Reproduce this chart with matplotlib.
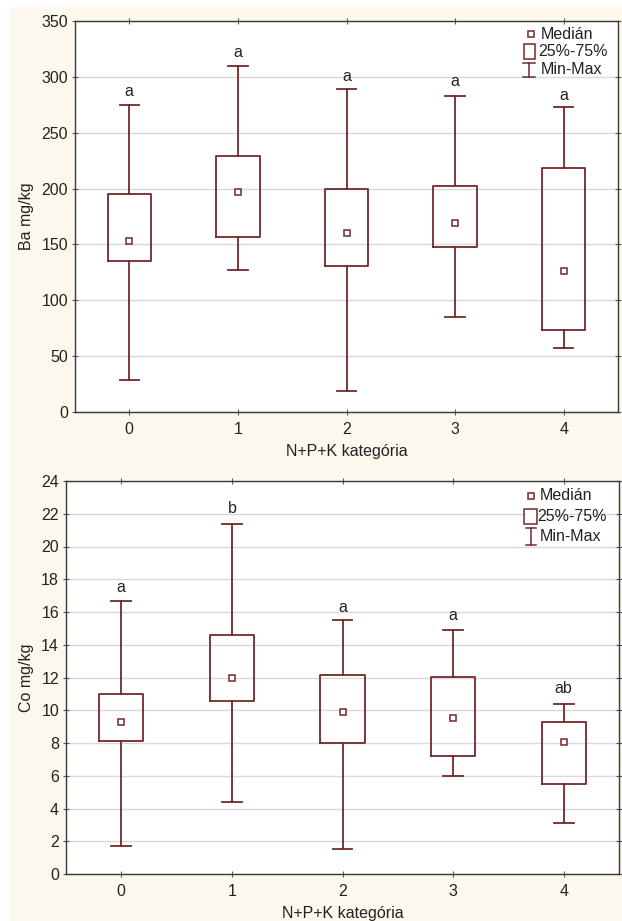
import matplotlib
matplotlib.use("Agg")
import matplotlib.pyplot as plt
from matplotlib.patches import Rectangle
from matplotlib.lines import Line2D

plt.rcParams['font.family'] = ['Liberation Sans', 'DejaVu Sans']

categories = ["0", "1", "2", "3", "4"]

# Ba mg/kg
ba_min = [29, 127, 19, 85, 57]
ba_q1 = [135, 157, 131, 148, 73]
ba_med = [153, 197, 160, 169, 126]
ba_q3 = [195, 229, 200, 202, 218]
ba_max = [275, 310, 289, 283, 273]
ba_letters = ["a", "a", "a", "a", "a"]
ba_letter_y = [287, 322, 300, 296, 283]

# Co mg/kg
co_min = [1.7, 4.37, 1.52, 6.0, 3.09]
co_q1 = [8.13, 10.57, 8.03, 7.2, 5.51]
co_med = [9.3, 11.95, 9.92, 9.55, 8.05]
co_q3 = [10.98, 14.6, 12.17, 12.05, 9.27]
co_max = [16.7, 21.4, 15.49, 14.88, 10.37]
co_letters = ["a", "b", "a", "a", "ab"]
co_letter_y = [17.5, 22.3, 16.3, 15.8, 11.3]

legend_labels = ["Medián", "25%-75%", "Min-Max"]
xlabel = "N+P+K kategória"

C = '#72292b'
BG = '#fcf8ee'
TXT = '#222222'

W, H = 622, 921
fig = plt.figure(figsize=(W / 100, H / 100), dpi=100)
fig.patch.set_facecolor('white')
fig.patches.append(Rectangle((10 / W, 0), 1 - 10 / W, 1 - 7 / H, transform=fig.transFigure,
                             facecolor=BG, edgecolor='none', zorder=-10))


def px_axes(l, t, r, b):
    return fig.add_axes([l / W, 1 - b / H, (r - l) / W, (b - t) / H])


def panel(ax, mins, q1s, meds, q3s, maxs, letters, letter_y, ylabel, yticks, ylim, leg):
    stats = []
    for lo, a, m, b, hi in zip(mins, q1s, meds, q3s, maxs):
        stats.append(dict(med=m, q1=a, q3=b, whislo=lo, whishi=hi, mean=m, fliers=[]))
    pos = list(range(len(categories)))
    ax.bxp(stats, positions=pos, widths=0.4, capwidths=0.18, showfliers=False,
           showmeans=True, patch_artist=False,
           boxprops=dict(color=C, linewidth=1.3),
           whiskerprops=dict(color=C, linewidth=1.3),
           capprops=dict(color=C, linewidth=1.3),
           medianprops=dict(linewidth=0),
           meanprops=dict(marker='s', markerfacecolor='white', markeredgecolor=C,
                          markersize=4.5, markeredgewidth=1.1))
    for x, s, y in zip(pos, letters, letter_y):
        ax.text(x, y, s, ha='center', va='center', fontsize=11.5, color=TXT)
    ax.set_xlim(-0.5, 4.5)
    ax.set_ylim(*ylim)
    ax.set_yticks(yticks)
    ax.set_xticks(pos)
    ax.set_xticklabels(categories)
    ax.yaxis.grid(True, color='#d9d9d9', linewidth=1)
    ax.set_axisbelow(True)
    ax.tick_params(axis='both', direction='inout', length=4, width=0.8, color='#555555',
                   labelsize=11.5, labelcolor=TXT, top=True, right=True)
    ax.tick_params(axis='x', pad=5)
    ax.tick_params(axis='y', pad=3)
    for sp in ax.spines.values():
        sp.set_color('#3a3a3a')
        sp.set_linewidth(1)
    ax.set_ylabel(ylabel, fontsize=11.5, color=TXT, labelpad=5)
    ax.set_xlabel(xlabel, fontsize=11.5, color=TXT, labelpad=5)
    # legend (Statistica style)
    mx, my, tx, rect, wx, wy, cap, y2, y3 = leg
    ax.plot([mx], [my], marker='s', markersize=4.5, markerfacecolor='white',
            markeredgecolor=C, markeredgewidth=1.1, transform=ax.transAxes, clip_on=False)
    ax.text(tx, my, legend_labels[0], transform=ax.transAxes, ha='left', va='center',
            fontsize=11.5, color=TXT)
    ax.add_patch(Rectangle((rect[0], rect[1]), rect[2], rect[3], transform=ax.transAxes,
                           facecolor='white', edgecolor=C, linewidth=1.1))
    ax.text(tx - 0.004, y2, legend_labels[1], transform=ax.transAxes, ha='left', va='center',
            fontsize=11.5, color=TXT)
    ax.add_line(Line2D([wx, wx], [wy[0], wy[1]], color=C, linewidth=1.1, transform=ax.transAxes))
    for yy in wy:
        ax.add_line(Line2D([wx - cap, wx + cap], [yy, yy], color=C, linewidth=1.1,
                           transform=ax.transAxes))
    ax.text(tx, y3, legend_labels[2], transform=ax.transAxes, ha='left', va='center',
            fontsize=11.5, color=TXT)


ax1 = px_axes(75, 21, 618, 412)
panel(ax1, ba_min, ba_q1, ba_med, ba_q3, ba_max, ba_letters, ba_letter_y, "Ba mg/kg",
      [0, 50, 100, 150, 200, 250, 300, 350], (0, 350),
      (0.840, 0.966, 0.857, (0.826, 0.902, 0.021, 0.038), 0.836, (0.856, 0.892), 0.0105,
       0.922, 0.875))

ax2 = px_axes(66, 481, 619, 874)
panel(ax2, co_min, co_q1, co_med, co_q3, co_max, co_letters, co_letter_y, "Co mg/kg",
      list(range(0, 25, 2)), (0, 24),
      (0.840, 0.962, 0.857, (0.829, 0.891, 0.022, 0.038), 0.841, (0.837, 0.880), 0.0095,
       0.909, 0.858))

fig.savefig("out.png", dpi=100, facecolor=fig.get_facecolor())
